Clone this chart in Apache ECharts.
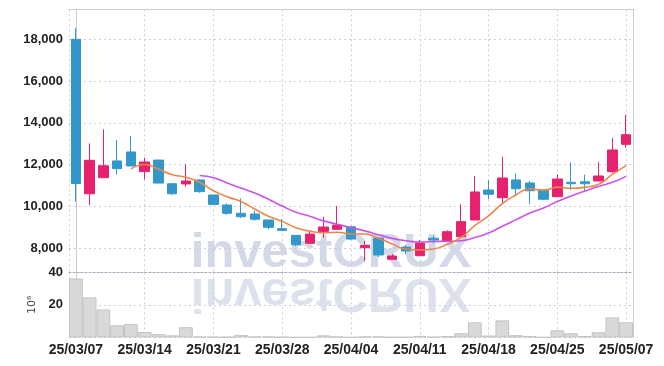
<!DOCTYPE html>
<html><head><meta charset="utf-8">
<script src="https://cdn.jsdelivr.net/npm/echarts@6/dist/echarts.min.js"></script>
<style>html,body{margin:0;padding:0;background:#fff}#c{width:664px;height:366px}</style>
</head><body><div id="c"></div>
<script>
const dates = ['25/03/07','25/03/10','25/03/11','25/03/12','25/03/13','25/03/14','25/03/17','25/03/18','25/03/19','25/03/20','25/03/21','25/03/24','25/03/25','25/03/26','25/03/27','25/03/28','25/03/31','25/04/01','25/04/02','25/04/03','25/04/04','25/04/07','25/04/08','25/04/09','25/04/10','25/04/11','25/04/14','25/04/15','25/04/16','25/04/17','25/04/18','25/04/21','25/04/22','25/04/23','25/04/24','25/04/25','25/04/28','25/04/29','25/04/30','25/05/02','25/05/07'];
const opens  = [18000,10610,11380,12180,12610,11670,12220,11090,11080,11270,10550,10070,9675,9640,9355,8940,8620,8240,8810,8910,9030,8030,8490,7475,8060,7646,8480,8350,8555,9355,10790,10420,11270,11125,10790,10470,11160,11185,11220,11665,12975];
const closes = [11100,12210,11950,11810,11940,12130,11120,10610,11220,10710,10100,9675,9510,9390,9005,8860,8170,8680,9020,9115,8445,8145,7680,7630,7870,8255,8400,8795,9275,10695,10585,11365,10850,10755,10345,11315,11090,11090,11460,12705,13435];
const lows   = [10230,10070,11380,11540,11940,11300,11120,10550,10950,10660,10100,9590,9450,9320,8910,8860,8110,8240,8510,8910,8400,7390,7585,7475,7715,7646,8240,8350,8555,9355,10360,10150,10550,10120,10300,10470,10790,10755,11220,11615,12815];
const highs  = [18530,13020,13690,13180,13370,12335,12250,11090,12020,11300,10550,10150,10390,9785,9354,9400,8622,8795,9510,10025,9050,8350,8493,7725,8160,8397,8590,8860,10105,11450,11270,12380,11590,11220,10790,11520,12115,11520,12115,13265,14380];
const ma5  = [null,null,null,null,11802,12008,11790,11522,11404,11158,10752,10463,10243,9877,9536,9288,8987,8821,8747,8769,8686,8681,8481,8203,7954,7916,7967,8190,8519,9084,9550,10143,10554,10850,10780,10926,10871,10919,11060,11533,11957];
const ma10 = [null,null,null,null,null,null,null,null,null,11480,11380,11127,10883,10641,10347,10020,9725,9532,9312,9153,8987,8834,8651,8475,8362,8301,8324,8336,8361,8519,8733,9055,9372,9685,9932,10238,10507,10737,10955,11156,11441];
const volumes = [36.2,24.6,17.2,7.5,8.3,3.4,2.1,1.3,6.3,0.5,0.4,0.4,1.5,0.6,0.6,0.4,0.2,0.2,1.3,0.6,0.2,0.6,0.6,0.3,0.3,1.0,0.4,0.9,2.6,9.3,1.2,10.5,1.4,0.9,0.2,4.4,2.6,0.9,3.2,12.3,9.3];
const priceTickLabels = [8000,10000,12000,14000,16000,18000];
const volumeTickLabels = [20,40];

const UP = '#e6226e', DOWN = '#3398c9';
const LAB = "'Liberation Sans', Arial, sans-serif";
const dotted = {show:true, lineStyle:{color:'#c9cddf', type:[2,3], width:1}};

const candleData = opens.map((o,i)=>[o, closes[i], lows[i], highs[i]]);
const chart = echarts.init(document.getElementById('c'), null, {renderer:'canvas'});
chart.setOption({
  animation:false,
  backgroundColor:'#fff',
  graphic:[
    {type:'text', z:0, silent:true, x:331, y:253, style:{text:'investCRUX', font:'bold 49px "Liberation Sans", Arial, sans-serif', fill:'#d3d9e7', align:'center', verticalAlign:'middle'}},
    {type:'text', z:0, silent:true, x:331, y:292.5, scaleY:-1, style:{text:'investCRUX', font:'bold 49px "Liberation Sans", Arial, sans-serif', fill:'#d3d9e7', opacity:0.8, align:'center', verticalAlign:'middle'}}
  ],
  grid:[
    {left:69, right:31, top:9.3, height:263},
    {left:69, right:31, top:272.3, height:65.2}
  ],
  xAxis:[
    {type:'category', gridIndex:0, data:dates, boundaryGap:true,
     axisLabel:{show:false}, axisTick:{show:false},
     axisLine:{show:true, lineStyle:{color:'#a9adbf', type:[2,2], width:1}}, splitLine:{show:false}},
    {type:'category', gridIndex:1, data:dates, boundaryGap:true,
     axisLabel:{interval:4, fontFamily:LAB, fontSize:14, fontWeight:'bold', color:'#222', margin:6},
     axisTick:{show:false}, axisLine:{show:false}, splitLine:{show:false}},
    {type:'value', gridIndex:0, position:'top', min:-0.5, max:40.5, minInterval:5, maxInterval:5,
     axisLabel:{show:false}, axisTick:{show:false},
     axisLine:{show:true, lineStyle:{color:'#cccccc', width:1}}, splitLine:dotted},
    {type:'value', gridIndex:1, position:'bottom', min:-0.5, max:40.5, minInterval:5, maxInterval:5,
     axisLabel:{show:false}, axisTick:{show:false}, axisLine:{show:false}, splitLine:dotted}
  ],
  yAxis:[
    {type:'value', gridIndex:0, min:6852, max:19435, minInterval:2000, maxInterval:2000,
     axisLine:{show:true, lineStyle:{color:'#cccccc'}}, axisTick:{show:false},
     axisLabel:{fontFamily:LAB, fontSize:13, fontWeight:'bold', color:'#222', margin:6,
       formatter:v=> priceTickLabels.includes(Math.round(v)) ? Math.round(v).toLocaleString('en-US') : ''},
     splitLine:dotted},
    {type:'value', gridIndex:1, min:0, max:40, interval:20,
     name:'10⁶', nameLocation:'middle', nameRotate:90, nameGap:31,
     nameTextStyle:{fontFamily:'DejaVu Sans', fontSize:11, color:'#444'},
     axisLine:{show:true, lineStyle:{color:'#cccccc'}}, axisTick:{show:false},
     axisLabel:{fontFamily:LAB, fontSize:13, fontWeight:'bold', color:'#222', margin:6,
       formatter:v=> volumeTickLabels.includes(Math.round(v)) ? String(Math.round(v)) : ''},
     splitLine:dotted},
    {type:'value', gridIndex:0, position:'right', min:0, max:1,
     axisLine:{show:true, lineStyle:{color:'#cccccc'}}, axisTick:{show:false}, axisLabel:{show:false}, splitLine:{show:false}},
    {type:'value', gridIndex:1, position:'right', min:0, max:1,
     axisLine:{show:true, lineStyle:{color:'#cccccc'}}, axisTick:{show:false}, axisLabel:{show:false}, splitLine:{show:false}}
  ],
  series:[
    {type:'bar', xAxisIndex:1, yAxisIndex:1, data:volumes, barCategoryGap:'0%', silent:true,
     itemStyle:{color:'#d9d9d9', borderColor:'#c3c3c3', borderWidth:1}},
    {type:'candlestick', xAxisIndex:0, yAxisIndex:0, data:candleData, barWidth:'72%', silent:true,
     itemStyle:{color:UP, color0:DOWN, borderColor:UP, borderColor0:DOWN, borderWidth:1}},
    {type:'line', xAxisIndex:0, yAxisIndex:0, data:ma10, smooth:true, showSymbol:false, silent:true,
     lineStyle:{color:'#c955e6', width:1.6}},
    {type:'line', xAxisIndex:0, yAxisIndex:0, data:ma5, smooth:true, showSymbol:false, silent:true,
     lineStyle:{color:'#ef8449', width:1.6}}
  ]
});
</script></body></html>
